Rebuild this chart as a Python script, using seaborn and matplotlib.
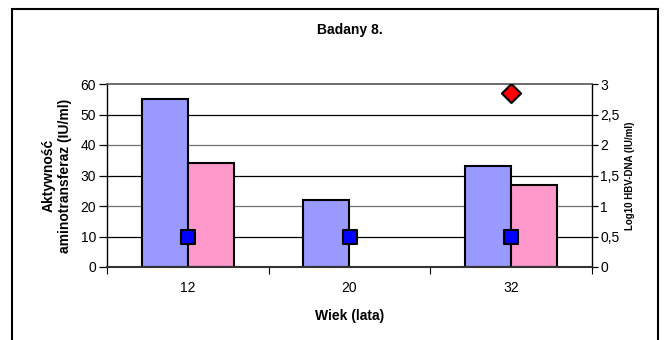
import numpy as np
import pandas as pd
import matplotlib
matplotlib.use("Agg")
import matplotlib.pyplot as plt
from matplotlib.patches import Rectangle
from matplotlib.ticker import FuncFormatter
import seaborn as sns

# Data
ages = ["12", "20", "32"]
alt_values = [55, 22, 33]            # blue bars (IU/ml)
ast_values = [34, np.nan, 27]        # pink bars (IU/ml)
hbv_low = [0.5, 0.5, 0.5]            # blue squares, log10 HBV-DNA
hbv_high = [np.nan, np.nan, 2.85]    # red diamond, log10 HBV-DNA
left_ticks = [0, 10, 20, 30, 40, 50, 60]
right_ticks = [0, 0.5, 1, 1.5, 2, 2.5, 3]

sns.set_theme(style="white")
plt.rcParams["font.family"] = ["Liberation Sans", "DejaVu Sans"]
plt.rcParams.update({"text.color": "black", "axes.labelcolor": "black",
                     "xtick.color": "black", "ytick.color": "black"})

df = pd.DataFrame({
    "wiek": ages * 2,
    "seria": ["ALT"] * 3 + ["AST"] * 3,
    "wartosc": alt_values + ast_values,
})

fig = plt.figure(figsize=(6.65, 3.4), dpi=100)
ax = fig.add_axes([107 / 665, 1 - 267 / 340, (592 - 107) / 665, (267 - 84) / 340])

sns.barplot(data=df, x="wiek", y="wartosc", hue="seria", order=ages,
            hue_order=["ALT", "AST"], palette=["#9999FF", "#FF99CC"],
            width=0.57, edgecolor="black", linewidth=1.5, saturation=1,
            legend=False, ax=ax)

ax.set_xlim(-0.5, 2.5)
ax.set_ylim(0, 60)
ax.set_yticks(left_ticks)
ax.set_axisbelow(True)
for v in left_ticks[1:-1]:
    ax.axhline(v, color="black" if v % 20 else "#707070", lw=0.9, zorder=0)

ax.set_xticks(range(len(ages)))
ax.set_xticklabels(ages)
ax.set_xticks([-0.5, 0.5, 1.5, 2.5], minor=True)
ax.tick_params(axis="x", which="major", length=0, labelsize=10, pad=10)
ax.tick_params(axis="x", which="minor", length=5, width=0.8, color="black",
               direction="out", bottom=True)
ax.tick_params(axis="y", length=6, width=0.9, color="black", direction="out",
               labelsize=10, pad=2, left=True)

ax.set_xlabel("Wiek (lata)", fontsize=10, fontweight="bold", labelpad=10)
ax.set_ylabel("Aktywność\naminotransferaz (IU/ml)", fontsize=10,
              fontweight="bold", labelpad=6)

for side in ["left", "right"]:
    ax.spines[side].set_color("black")
    ax.spines[side].set_linewidth(1.0)
ax.spines["bottom"].set_color("#333333")
ax.spines["bottom"].set_linewidth(1.5)
ax.spines["top"].set_color("#555555")
ax.spines["top"].set_linewidth(1.2)

# Secondary axis: log10 HBV-DNA
ax2 = ax.twinx()
pos = np.arange(len(ages))
sns.scatterplot(x=pos, y=hbv_low, marker="s", s=110, color="#0000FF",
                edgecolor="black", linewidth=1.5, zorder=5, ax=ax2, legend=False)
sns.scatterplot(x=pos, y=hbv_high, marker="D", s=95, color="#FF0000",
                edgecolor="black", linewidth=1.5, zorder=5, ax=ax2, legend=False)
ax2.set_ylim(0, 3)
ax2.set_xlim(-0.5, 2.5)
ax2.set_yticks(right_ticks)
ax2.yaxis.set_major_formatter(FuncFormatter(lambda v, p: f"{v:g}".replace(".", ",")))
ax2.tick_params(axis="y", length=4, width=0.9, color="black", direction="out",
                labelsize=10, pad=2, right=True)
ax2.set_ylabel("Log10 HBV-DNA (IU/ml)", fontsize=7, fontweight="bold", labelpad=4)
for s in ax2.spines.values():
    s.set_visible(False)
ax2.grid(False)

ax.set_title("Badany 8.", fontsize=10, fontweight="bold", pad=36)

# Chart frame
fig.patches.append(Rectangle((12 / 665, -0.2), (658 - 12) / 665, 1.2 - 9 / 340,
                             transform=fig.transFigure, fill=False,
                             edgecolor="black", linewidth=1.5))

fig.savefig("out.png", dpi=100, facecolor="white")
